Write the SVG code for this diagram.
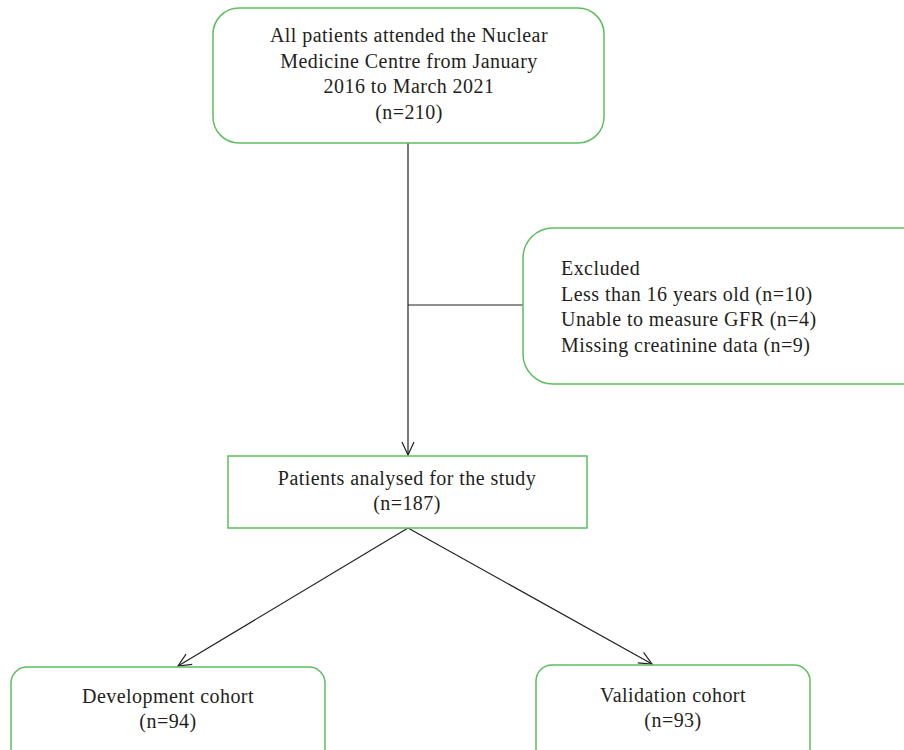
<svg xmlns="http://www.w3.org/2000/svg" width="904" height="750" viewBox="0 0 904 750">
<style>
.box{fill:#ffffff;stroke:#5dbe5d;stroke-width:1.5}
.t{font-family:"Liberation Serif","Times New Roman",serif;font-size:20px;letter-spacing:0.45px;fill:#231f20}
.c{text-anchor:middle}
.ln{stroke:#231f20;stroke-width:1.2;fill:none}
</style>
<defs>
<marker id="arr" markerWidth="16" markerHeight="16" refX="14" refY="8" orient="auto" markerUnits="userSpaceOnUse">
<path d="M1,2 L14,8 L1,14" fill="none" stroke="#231f20" stroke-width="1.2"/>
</marker>
</defs>
<rect width="904" height="750" fill="#ffffff"/>
<g id="connectors">
<line class="ln" x1="408" y1="143" x2="408" y2="455" marker-end="url(#arr)"/>
<line class="ln" x1="408" y1="305" x2="523" y2="305"/>
<line class="ln" x1="408" y1="528" x2="178" y2="666" marker-end="url(#arr)"/>
<line class="ln" x1="408" y1="528" x2="652" y2="664" marker-end="url(#arr)"/>
</g>
<g id="node-all">
<rect class="box" x="213" y="8" width="391" height="135" rx="26"/>
<text class="t c" x="409" y="42">All patients attended the Nuclear</text>
<text class="t c" x="409" y="67.5">Medicine Centre from January</text>
<text class="t c" x="409" y="93">2016 to March 2021</text>
<text class="t c" x="409" y="118.5">(n=210)</text>
</g>
<g id="node-excluded">
<rect class="box" x="523" y="228" width="410" height="156" rx="30"/>
<text class="t" x="561" y="275">Excluded</text>
<text class="t" x="561" y="300.5">Less than 16 years old (n=10)</text>
<text class="t" x="561" y="326">Unable to measure GFR (n=4)</text>
<text class="t" x="561" y="351.5">Missing creatinine data (n=9)</text>
</g>
<g id="node-analysed">
<rect class="box" x="228" y="456" width="359" height="72"/>
<text class="t c" x="407" y="485">Patients analysed for the study</text>
<text class="t c" x="407" y="510">(n=187)</text>
</g>
<g id="node-development">
<rect class="box" x="11" y="667" width="314" height="110" rx="16"/>
<text class="t c" x="168" y="703">Development cohort</text>
<text class="t c" x="168" y="728">(n=94)</text>
</g>
<g id="node-validation">
<rect class="box" x="536" y="665" width="274" height="110" rx="16"/>
<text class="t c" x="673" y="702">Validation cohort</text>
<text class="t c" x="673" y="727">(n=93)</text>
</g>
</svg>
